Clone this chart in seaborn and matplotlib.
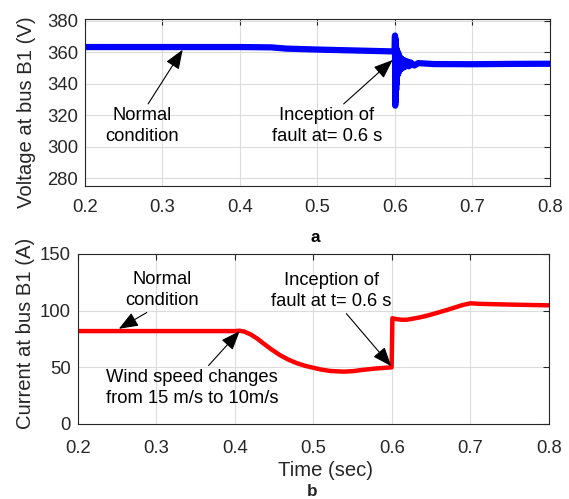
import numpy as np
import pandas as pd
import matplotlib
matplotlib.use("Agg")
import matplotlib.pyplot as plt
import seaborn as sns

# ---- data ----
volt_time = [0.200, 0.300, 0.400, 0.440, 0.460, 0.500, 0.550, 0.5995,
             0.6000, 0.6003, 0.6006, 0.6009, 0.6012, 0.6015, 0.6018,
             0.6021, 0.6025, 0.6030, 0.6035, 0.6040, 0.6045, 0.6050,
             0.6055, 0.6060, 0.6065, 0.6070, 0.6075, 0.6080, 0.6090,
             0.6100, 0.6110, 0.6120, 0.6130, 0.6140, 0.6160, 0.6180,
             0.6200, 0.6250, 0.6300, 0.6500, 0.7000, 0.7500, 0.8000]
volt_vals = [363.2, 363.2, 363.2, 363.0, 362.2, 361.6, 361.0, 360.4,
             370.5, 326.0, 368.5, 329.0, 364.0, 336.0, 362.0,
             340.0, 361.5, 345.0, 360.0, 346.5, 359.0, 347.5,
             357.5, 348.5, 356.5, 349.0, 356.0, 349.5, 355.5,
             350.0, 355.0, 350.5, 354.5, 351.0, 354.0, 351.0,
             353.5, 351.5, 353.0, 352.4, 352.3, 352.5, 352.6]

curr_time = [0.200, 0.300, 0.400, 0.406, 0.412, 0.420, 0.428, 0.436,
             0.446, 0.457, 0.468, 0.479, 0.490, 0.500, 0.510, 0.521,
             0.538, 0.550, 0.563, 0.580, 0.5995, 0.6005, 0.605, 0.612,
             0.619, 0.635, 0.648, 0.670, 0.690, 0.700, 0.712, 0.755, 0.800]
curr_vals = [82.0, 82.0, 82.0, 82.3, 81.5, 79.0, 75.5, 71.2,
             66.0, 60.9, 56.8, 53.6, 51.2, 49.6, 48.0, 46.8,
             46.2, 46.6, 47.8, 49.0, 50.0, 93.3, 92.6, 92.0,
             92.0, 94.0, 96.2, 100.6, 105.0, 106.5, 106.0, 105.3, 104.7]

x_ticks = [0.2, 0.3, 0.4, 0.5, 0.6, 0.7, 0.8]
volt_ticks = [280, 300, 320, 340, 360, 380]
curr_ticks = [0, 50, 100, 150]

df_v = pd.DataFrame({"t": volt_time, "v": volt_vals})
df_c = pd.DataFrame({"t": curr_time, "i": curr_vals})

sns.set_theme(style="white")
plt.rcParams['font.family'] = ['Liberation Sans', 'DejaVu Sans']
FS_TICK = 13.3
FS_LAB = 14.6
FS_ANN = 13.2
TXT = '#262626'

fig = plt.figure(figsize=(5.69, 4.99), dpi=100)
ax1 = fig.add_axes([85/569, 1-186/499, 465/569, 167/499])
ax2 = fig.add_axes([78/569, 1-424/499, 471/569, 170/499])

sns.lineplot(data=df_v, x="t", y="v", ax=ax1, color="#0000ff", lw=4.5,
             estimator=None, sort=False)
sns.lineplot(data=df_c, x="t", y="i", ax=ax2, color="#ff0000", lw=3.2,
             estimator=None, sort=False)

for ax, xpad in ((ax1, 9.5), (ax2, 11.5)):
    ax.set_xlim(0.2, 0.8)
    ax.set_xticks(x_ticks)
    ax.set_xticklabels([f"{t:.1f}" for t in x_ticks])
    ax.grid(True, color='#dcdcdc', lw=0.8)
    ax.set_axisbelow(True)
    ax.tick_params(direction='in', length=4, width=0.8, top=True, right=True,
                   labelsize=FS_TICK, labelcolor=TXT, colors='#262626')
    ax.tick_params(axis='x', pad=xpad)
    ax.tick_params(axis='y', pad=5)
    for s in ax.spines.values():
        s.set_color('#262626')
        s.set_linewidth(0.8)

ax1.set_ylim(275, 381)
ax1.set_yticks(volt_ticks)
ax1.set_ylabel("Voltage at bus B1 (V)", fontsize=FS_LAB, color=TXT, va='center')
ax1.yaxis.set_label_coords(-0.125, 0.44)
ax1.set_xlabel("a", fontsize=FS_TICK - 1, fontweight='bold', color='black')
ax1.xaxis.set_label_coords(0.495, -0.265)

ax2.set_ylim(0, 150)
ax2.set_yticks(curr_ticks)
ax2.set_ylabel("Current at bus B1 (A)", fontsize=FS_LAB, color=TXT, va='center')
ax2.yaxis.set_label_coords(-0.1125, 0.535)
ax2.set_xlabel("Time (sec)", fontsize=FS_LAB, color=TXT)
ax2.xaxis.set_label_coords(0.525, -0.215)
fig.text(312/569, 1-492/499, "b", fontsize=FS_TICK - 1, fontweight='bold',
         ha='center', va='center')

arrow = dict(arrowstyle='-|>,head_length=0.9,head_width=0.35',
             color='black', lw=0.8, shrinkA=0, shrinkB=0)

ax1.annotate("Normal\ncondition", xy=(0.326, 361.5), xytext=(0.274, 313),
             fontsize=FS_ANN, color='black', ha='center', va='center',
             linespacing=1.3, arrowprops=dict(arrow, relpos=(0.55, 1.0)))
ax1.annotate("Inception of\nfault at= 0.6 s", xy=(0.597, 355), xytext=(0.512, 313),
             fontsize=FS_ANN, color='black', ha='center', va='center',
             linespacing=1.3, arrowprops=dict(arrow, relpos=(0.62, 1.0)))

ax2.annotate("Normal\ncondition", xy=(0.252, 84), xytext=(0.307, 118),
             fontsize=FS_ANN, color='black', ha='center', va='center',
             linespacing=1.3, arrowprops=dict(arrow, relpos=(0.37, 0.0)))
ax2.annotate("Wind speed changes\nfrom 15 m/s to 10m/s", xy=(0.406, 82),
             xytext=(0.345, 32), fontsize=FS_ANN, color='black', ha='center',
             va='center', linespacing=1.3,
             arrowprops=dict(arrow, relpos=(0.58, 1.0)))
ax2.annotate("Inception of\nfault at t= 0.6 s", xy=(0.599, 51), xytext=(0.523, 117),
             fontsize=FS_ANN, color='black', ha='center', va='center',
             linespacing=1.3, arrowprops=dict(arrow, relpos=(0.6, 0.0)))

fig.savefig("out.png", dpi=100)
